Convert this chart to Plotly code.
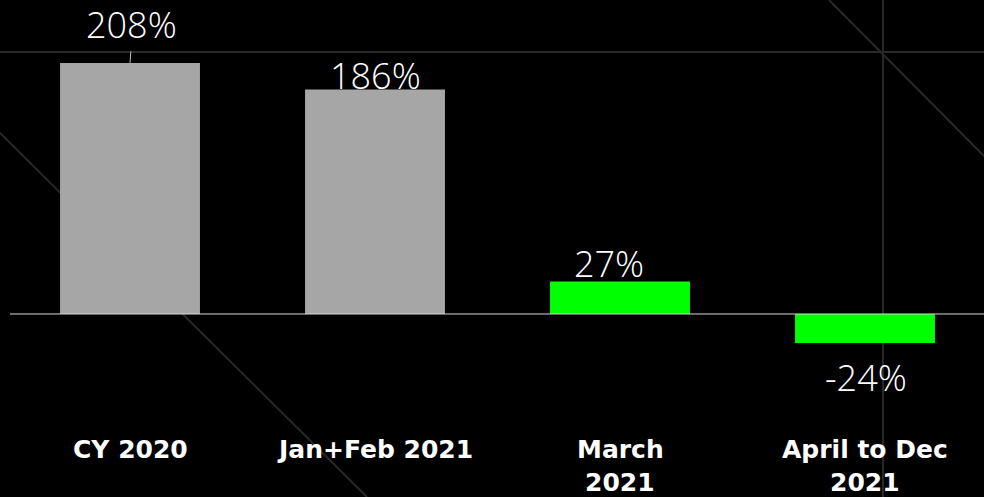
import plotly.graph_objects as go

categories = ["CY 2020", "Jan+Feb 2021", "March 2021", "April to Dec 2021"]
label_line1 = ["CY 2020", "Jan+Feb 2021", "March", "April to Dec"]
label_line2 = ["", "", "2021", "2021"]
values = [208, 186, 27, -24]
value_labels = ["208%", "186%", "27%", "-24%"]
bar_colors = ["#A6A6A6", "#A6A6A6", "#00FF00", "#00FF00"]

W, H = 984, 497
BG = "#000000"
DECO = "#282828"

fig = go.Figure()
fig.add_trace(go.Bar(
    x=categories, y=values, marker=dict(color=bar_colors, line=dict(width=0)),
    width=0.571, hoverinfo="skip",
))

def px(x):
    return x / W

def py(y):
    return 1 - y / H

shapes = [
    # decorative background lines
    dict(type="line", xref="paper", yref="paper", x0=0, x1=1, y0=py(52), y1=py(52),
         line=dict(color=DECO, width=2), layer="below"),
    dict(type="line", xref="paper", yref="paper", x0=px(883), x1=px(883), y0=0, y1=1,
         line=dict(color=DECO, width=2), layer="below"),
    dict(type="line", xref="paper", yref="paper", x0=px(-5), x1=px(367), y0=py(128), y1=py(497),
         line=dict(color=DECO, width=2), layer="below"),
    dict(type="line", xref="paper", yref="paper", x0=px(829), x1=px(984), y0=py(0), y1=py(156),
         line=dict(color=DECO, width=2), layer="below"),
    # zero line
    dict(type="line", xref="paper", yref="y", x0=px(10), x1=1, y0=0, y1=0,
         line=dict(color="#d9d9d9", width=1), layer="above"),
]

label_font = dict(family="Open Sans", size=36, color="#ffffff", weight=300)
offsets = [(1, 38), (0, 14), (-11, 18), (1, -35)]
annotations = []
for i, (c, v, t) in enumerate(zip(categories, values, value_labels)):
    dx, dy = offsets[i]
    annotations.append(dict(
        x=c, y=v, xref="x", yref="y", text=t, showarrow=False,
        xshift=dx, yshift=dy, yanchor="middle", xanchor="center", font=label_font,
    ))
# leader line for first label
annotations.append(dict(
    x=categories[0], y=values[0], xref="x", yref="y", text="", showarrow=True,
    arrowhead=0, arrowwidth=1, arrowcolor="#bfbfbf", ax=1, ay=-13,
))
cat_font = dict(family="DejaVu Sans", size=25, color="#ffffff", weight="bold")
for c, t1, t2 in zip(categories, label_line1, label_line2):
    annotations.append(dict(
        x=c, y=py(449), xref="x", yref="paper", text=t1, showarrow=False,
        yanchor="middle", xanchor="center", font=cat_font, borderpad=0,
    ))
    if t2:
        annotations.append(dict(
            x=c, y=py(482), xref="x", yref="paper", text=t2, showarrow=False,
            yanchor="middle", xanchor="center", font=cat_font, borderpad=0,
        ))

fig.update_layout(
    width=W, height=H,
    margin=dict(l=0, r=0, t=0, b=0),
    paper_bgcolor=BG, plot_bgcolor=BG,
    showlegend=False,
    shapes=shapes, annotations=annotations,
    xaxis=dict(range=[-0.5306, 3.4857], showgrid=False, zeroline=False,
               showticklabels=False, showline=False, fixedrange=True),
    yaxis=dict(range=[-151.6, 260.1], showgrid=False, zeroline=False,
               showticklabels=False, showline=False, fixedrange=True),
)

fig.write_html("out.html")
